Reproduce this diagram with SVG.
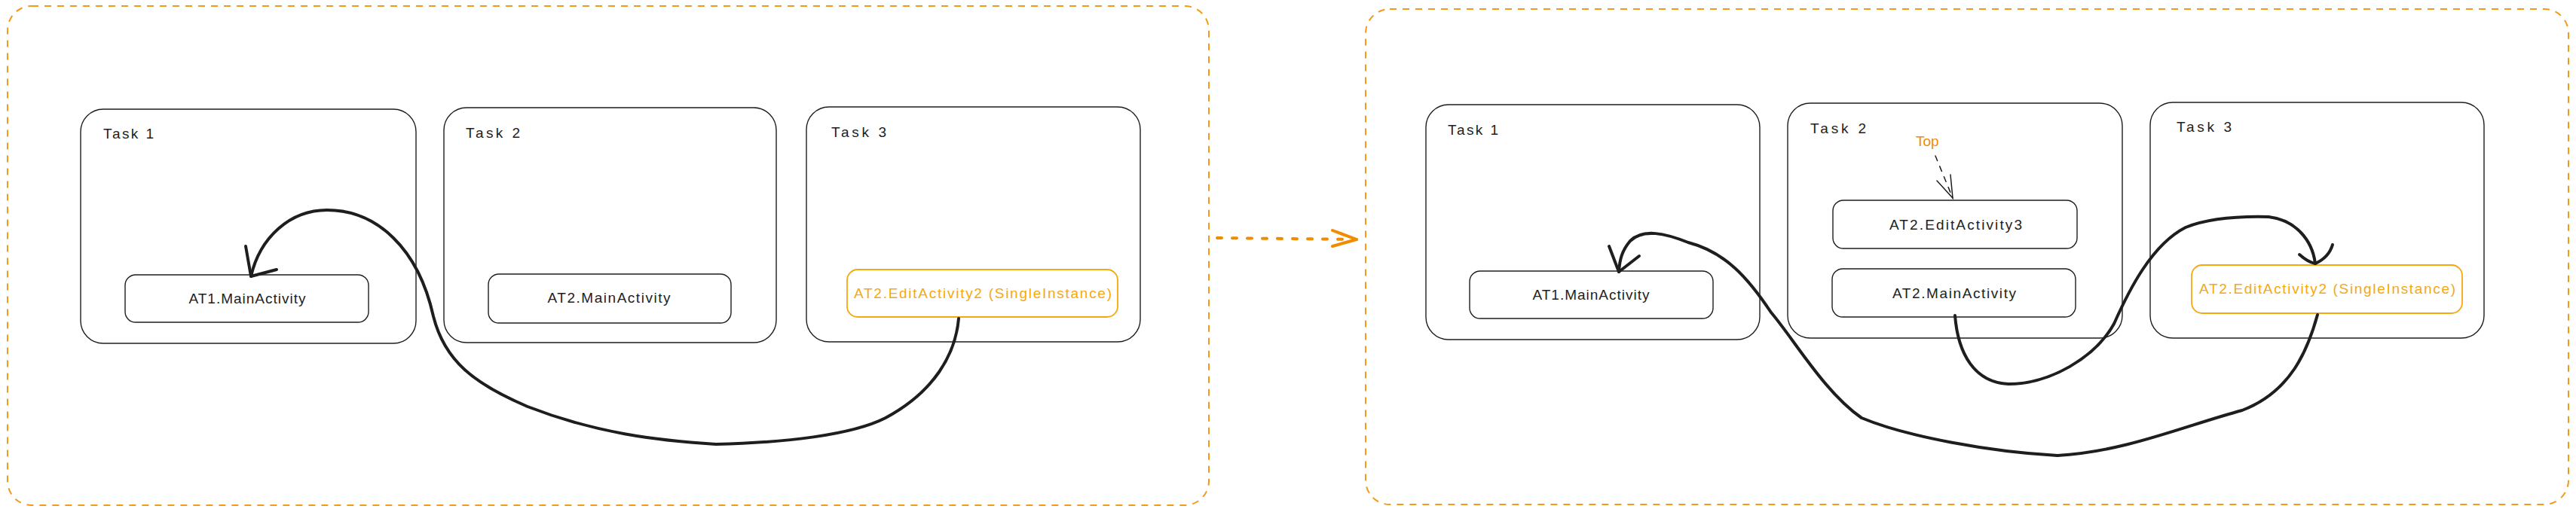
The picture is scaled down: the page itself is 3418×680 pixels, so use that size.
<svg xmlns="http://www.w3.org/2000/svg" width="3418" height="680" viewBox="0 0 3418 680">
  <style>
    .frame { fill: none; stroke: #f29a1a; stroke-width: 2; stroke-dasharray: 9 8; }
    .task { fill: #ffffff; stroke: #1e1e1e; stroke-width: 1.4; }
    .act { fill: #ffffff; stroke: #1e1e1e; stroke-width: 1.4; }
    .single { fill: #ffffff; stroke: #f5a90f; stroke-width: 1.8; }
    .lbl { font-family: "Liberation Sans", Arial, sans-serif; font-size: 19px; fill: #1e1e1e; }
    .txt { font-family: "Liberation Sans", Arial, sans-serif; font-size: 19px; fill: #1e1e1e; text-anchor: middle; }
    .otxt { font-family: "Liberation Sans", Arial, sans-serif; font-size: 19px; fill: #f5a90f; text-anchor: middle; }
    .toptxt { font-family: "Liberation Sans", Arial, sans-serif; font-size: 19px; fill: #f08c00; }
    .conn { fill: none; stroke: #1e1e1e; stroke-width: 4; stroke-linecap: round; stroke-linejoin: round; }
    .thin { fill: none; stroke: #1e1e1e; stroke-width: 1.5; stroke-linecap: round; }
    .trans { fill: none; stroke: #f08c00; stroke-width: 4; stroke-linecap: round; stroke-linejoin: round; }
  </style>

  <!-- Frames -->
  <g id="frame-before"><rect class="frame" x="10" y="8" width="1594" height="663" rx="32"/></g>
  <g id="frame-after"><rect class="frame" x="1812" y="12" width="1596" height="658" rx="32"/></g>

  <!-- Left (before) -->
  <g id="l-task1">
    <rect class="task" x="107" y="145" width="445" height="311" rx="30"/>
    <text class="lbl" x="137" y="184" textLength="67" lengthAdjust="spacing">Task 1</text>
  </g>
  <g id="l-task2">
    <rect class="task" x="589" y="143" width="441" height="312" rx="30"/>
    <text class="lbl" x="618" y="183" textLength="72" lengthAdjust="spacing">Task 2</text>
  </g>
  <g id="l-task3">
    <rect class="task" x="1070" y="142" width="443" height="312" rx="30"/>
    <text class="lbl" x="1103" y="182" textLength="73" lengthAdjust="spacing">Task 3</text>
  </g>
  <g id="l-at1-main">
    <rect class="act" x="166" y="365" width="323" height="63" rx="14"/>
    <text class="txt" x="328" y="403" textLength="155" lengthAdjust="spacing">AT1.MainActivity</text>
  </g>
  <g id="l-at2-main">
    <rect class="act" x="648" y="364" width="322" height="65" rx="14"/>
    <text class="txt" x="808" y="402" textLength="163" lengthAdjust="spacing">AT2.MainActivity</text>
  </g>
  <g id="l-at2-edit2">
    <rect class="single" x="1124" y="358" width="359" height="63" rx="14"/>
    <text class="otxt" x="1304" y="396" textLength="342" lengthAdjust="spacing">AT2.EditActivity2 (SingleInstance)</text>
  </g>

  <!-- Right (after) -->
  <g id="r-task1">
    <rect class="task" x="1892" y="139" width="443" height="312" rx="30"/>
    <text class="lbl" x="1921" y="179" textLength="67" lengthAdjust="spacing">Task 1</text>
  </g>
  <g id="r-task2">
    <rect class="task" x="2372" y="137" width="444" height="312" rx="30"/>
    <text class="lbl" x="2402" y="177" textLength="74" lengthAdjust="spacing">Task 2</text>
  </g>
  <g id="r-task3">
    <rect class="task" x="2853" y="136" width="443" height="313" rx="30"/>
    <text class="lbl" x="2888" y="175" textLength="73" lengthAdjust="spacing">Task 3</text>
  </g>
  <g id="r-top">
    <text class="toptxt" x="2542" y="194">Top</text>
  </g>
  <g id="r-at2-edit3">
    <rect class="act" x="2432" y="266" width="324" height="64" rx="14"/>
    <text class="txt" x="2595" y="305" textLength="176" lengthAdjust="spacing">AT2.EditActivity3</text>
  </g>
  <g id="r-at2-main">
    <rect class="act" x="2431" y="357" width="323" height="64" rx="14"/>
    <text class="txt" x="2593" y="396" textLength="164" lengthAdjust="spacing">AT2.MainActivity</text>
  </g>
  <g id="r-at1-main">
    <rect class="act" x="1950" y="360" width="323" height="63" rx="14"/>
    <text class="txt" x="2111" y="398" textLength="155" lengthAdjust="spacing">AT1.MainActivity</text>
  </g>
  <g id="r-at2-edit2">
    <rect class="single" x="2908" y="352" width="359" height="64" rx="14"/>
    <text class="otxt" x="3088" y="390" textLength="340" lengthAdjust="spacing">AT2.EditActivity2 (SingleInstance)</text>
  </g>

  <!-- Connectors -->
  <g id="connectors">
    <!-- transition arrow -->
    <path class="trans" d="M1615,316 L1800,318" stroke-dasharray="6 14"/>
    <path class="trans" d="M1768,306 L1800,318 L1768,327"/>

    <!-- left: EditActivity2 -> AT1.MainActivity -->
    <path class="conn" d="M1272,423 C1268,470 1240,520 1175,555 C1130,578 1040,588 950,590 C870,585 790,575 700,540 C630,510 590,480 575,420 C555,330 500,279 434,279 C385,279 345,315 333,367"/>
    <path class="conn" d="M326,327 L333,367 L367,358"/>

    <!-- right: Top label -> EditActivity3 -->
    <path class="thin" d="M2568,207 L2591,263" stroke-dasharray="7 8"/>
    <path class="thin" d="M2570,240 L2591,263 L2588,232"/>

    <!-- right: AT2.MainActivity -> EditActivity2 -->
    <path class="conn" d="M2594,419 C2598,470 2620,508 2665,510 C2720,510 2780,475 2805,430 C2825,385 2855,325 2900,302 C2930,290 2970,287 3010,288 C3045,292 3068,318 3072,350"/>
    <path class="conn" d="M3051,338 Q3062,348 3072,350 Q3090,342 3095,325"/>

    <!-- right: EditActivity2 -> AT1.MainActivity -->
    <path class="conn" d="M3075,418 C3062,465 3040,520 2975,545 C2900,565 2820,600 2730,605 C2640,600 2530,580 2470,555 C2420,520 2380,450 2350,415 C2320,370 2290,335 2240,322 C2210,310 2180,303 2163,320 C2152,333 2149,345 2148,361"/>
    <path class="conn" d="M2135,327 L2148,361 L2175,340"/>
  </g>
</svg>
